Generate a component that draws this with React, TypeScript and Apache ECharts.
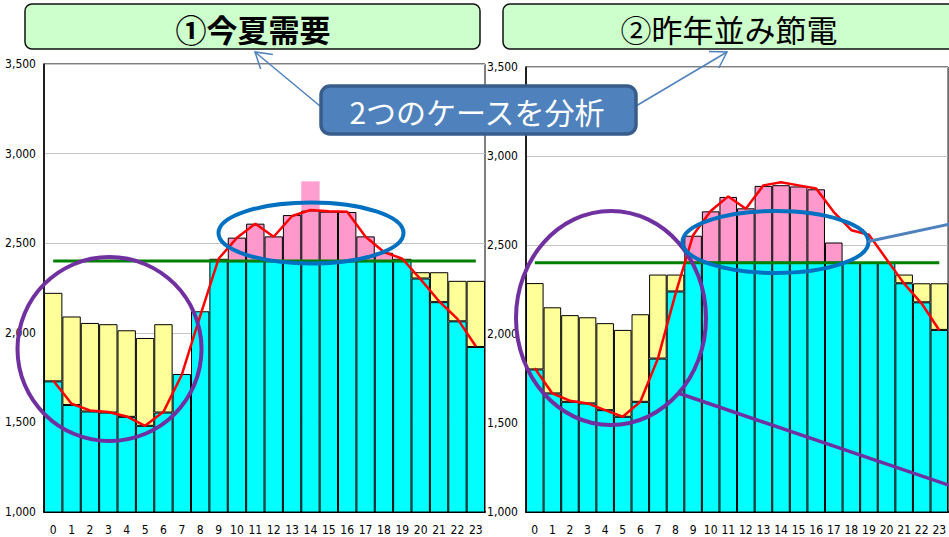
import React, { useEffect, useRef } from 'react';
import * as echarts from 'echarts';

// ---- data ----
const hourLabels = ['0','1','2','3','4','5','6','7','8','9','10','11','12','13','14','15','16','17','18','19','20','21','22','23'];
const yMin = 1000;
const yMax = 3500;
const yStep = 500;

// ① 今夏需要
const leftSupplyBase = [1729,1597,1561,1555,1531,1481,1555,1770,2120,2400,2400,2400,2400,2400,2400,2400,2400,2400,2400,2400,2303,2171,2064,1921];
const leftTotal = [2223,2091,2055,2048,2014,1971,2048,1770,2120,2413,2531,2609,2538,2657,2683,2676,2674,2538,2447,2413,2338,2338,2290,2290];
const leftPeakExtra = ['-','-','-','-','-','-','-','-','-','-','-','-','-','-',162,'-','-','-','-','-','-','-','-','-'];
const leftDemand = [1734,1604,1567,1558,1533,1481,1559,1766,2095,2413,2530,2609,2536,2652,2685,2678,2676,2536,2451,2413,2298,2176,2078,1925];

// ② 昨年並み節電
const rightSupplyBase = [1801,1666,1619,1610,1572,1535,1619,1862,2239,2400,2400,2400,2400,2400,2400,2400,2400,2400,2400,2400,2400,2285,2178,2023];
const rightTotal = [2286,2150,2106,2094,2061,2023,2111,2334,2334,2552,2689,2770,2706,2832,2836,2829,2813,2514,2400,2400,2400,2334,2285,2285];
const rightDemand = [1808,1666,1625,1610,1572,1535,1619,1862,2225,2555,2691,2773,2704,2835,2852,2835,2817,2685,2583,2558,2420,2283,2171,2021];

const capacityLine = [2400,2400,2400,2400,2400,2400,2400,2400,2400,2400,2400,2400,2400,2400,2400,2400,2400,2400,2400,2400,2400,2400,2400,2400];
const capLevel = 2400;

const titles = ['①今夏需要', '②昨年並み節電'];
const calloutText = '2つのケースを分析';

// ---- styles ----
const CYAN = '#00ffff';
const YELLOW = '#ffff99';
const PINK = '#ff99cc';
const AXIS_FONT = '"Liberation Sans Narrow", "DejaVu Sans Condensed", "Arial Narrow", sans-serif';
const JP_FONT = '"Noto Sans CJK JP", "Noto Sans CJK SC", sans-serif';

function topSegments(base: number[], total: number[]) {
  return base.map((b, i) => {
    const d = total[i] - b;
    if (d <= 0) return '-';
    return { value: d, itemStyle: { color: b >= capLevel ? PINK : YELLOW } };
  });
}

function arrowHead(x1: number, y1: number, x2: number, y2: number, len = 18, ang = (32 * Math.PI) / 180) {
  const a = Math.atan2(y2 - y1, x2 - x1);
  return [
    [x2 - len * Math.cos(a - ang), y2 - len * Math.sin(a - ang)],
    [x2, y2],
    [x2 - len * Math.cos(a + ang), y2 - len * Math.sin(a + ang)],
  ];
}

function makeAxes(idx: number) {
  return {
    x: {
      type: 'category',
      gridIndex: idx,
      data: hourLabels,
      boundaryGap: true,
      axisTick: { show: false },
      axisLine: { show: true, lineStyle: { color: '#000', width: 2 } },
      axisLabel: { interval: 0, fontSize: 12, fontFamily: AXIS_FONT, color: '#000', margin: 12 },
      splitLine: { show: false },
    },
    y: {
      type: 'value',
      gridIndex: idx,
      min: yMin,
      max: yMax,
      interval: yStep,
      axisTick: { show: false },
      axisLine: { show: true, lineStyle: { color: '#000', width: 1.5 } },
      axisLabel: {
        fontSize: 12,
        fontFamily: AXIS_FONT,
        color: '#000',
        margin: 8,
        formatter: (v: number) => v.toLocaleString('en-US'),
      },
      splitLine: { show: true, lineStyle: { color: '#c4c4c4', width: 1 } },
    },
  };
}

function panelSeries(idx: number, base: number[], total: number[], demand: number[], extra?: any[]) {
  const stack = 'S' + idx;
  const list: any[] = [
    {
      type: 'bar', xAxisIndex: idx, yAxisIndex: idx, stack, data: base,
      barCategoryGap: '0%', z: 2,
      itemStyle: { color: CYAN, borderColor: '#000', borderWidth: 1 },
    },
    {
      type: 'bar', xAxisIndex: idx, yAxisIndex: idx, stack, data: topSegments(base, total),
      barCategoryGap: '0%', z: 2,
      itemStyle: { color: YELLOW, borderColor: '#000', borderWidth: 1 },
    },
  ];
  if (extra) {
    list.push({
      type: 'bar', xAxisIndex: idx, yAxisIndex: idx, stack, data: extra,
      barCategoryGap: '0%', z: 2,
      itemStyle: { color: '#ff9fd0', borderWidth: 0 },
    });
  }
  list.push({
    type: 'line', xAxisIndex: idx, yAxisIndex: idx, data: capacityLine,
    symbol: 'none', z: 3, lineStyle: { color: '#008000', width: 3 },
  });
  list.push({
    type: 'line', xAxisIndex: idx, yAxisIndex: idx, data: demand,
    symbol: 'none', z: 4, lineStyle: { color: '#ff0000', width: 2.5 },
  });
  return list;
}

export default function App() {
  const ref = useRef<HTMLDivElement>(null);
  useEffect(() => {
    if (!ref.current) return;
    const chart = echarts.init(ref.current, null, { renderer: 'svg' });
    const a0 = makeAxes(0);
    const a1 = makeAxes(1);
    const leftArrowTail = [320, 106];
    const leftArrowTip = [255, 52];
    const rightArrowTail = [636, 106];
    const rightArrowTip = [727, 52];

    const graphics: any[] = [
      // title boxes
      { type: 'rect', z: 100, shape: { x: 25, y: 4, width: 455, height: 45, r: 7 },
        style: { fill: '#ccffcc', stroke: '#111', lineWidth: 1.5 } },
      { type: 'text', z: 101, x: 253, y: 28,
        style: { text: titles[0], fill: '#000', font: `bold 31px ${JP_FONT}`,
          textAlign: 'center', textVerticalAlign: 'middle', align: 'center', verticalAlign: 'middle' } },
      { type: 'rect', z: 100, shape: { x: 503, y: 4, width: 455, height: 45, r: 7 },
        style: { fill: '#ccffcc', stroke: '#111', lineWidth: 1.5 } },
      { type: 'text', z: 101, x: 729, y: 28,
        style: { text: titles[1], fill: '#000', font: `normal 31px ${JP_FONT}`,
          textAlign: 'center', textVerticalAlign: 'middle', align: 'center', verticalAlign: 'middle' } },
      // arrows
      { type: 'line', z: 100, shape: { x1: leftArrowTail[0], y1: leftArrowTail[1], x2: leftArrowTip[0], y2: leftArrowTip[1] },
        style: { stroke: '#4f81bd', lineWidth: 1.5 } },
      { type: 'polyline', z: 100, shape: { points: arrowHead(leftArrowTail[0], leftArrowTail[1], leftArrowTip[0], leftArrowTip[1]) },
        style: { stroke: '#4f81bd', lineWidth: 1.5, fill: null } },
      { type: 'line', z: 100, shape: { x1: rightArrowTail[0], y1: rightArrowTail[1], x2: rightArrowTip[0], y2: rightArrowTip[1] },
        style: { stroke: '#4f81bd', lineWidth: 1.5 } },
      { type: 'polyline', z: 100, shape: { points: arrowHead(rightArrowTail[0], rightArrowTail[1], rightArrowTip[0], rightArrowTip[1]) },
        style: { stroke: '#4f81bd', lineWidth: 1.5, fill: null } },
      // callout
      { type: 'rect', z: 102, shape: { x: 321, y: 86, width: 315, height: 48, r: 9 },
        style: { fill: '#4f81bd', stroke: '#385d8a', lineWidth: 3.5 } },
      { type: 'text', z: 103, x: 477, y: 111,
        style: { text: calloutText, fill: '#fff', font: `normal 30px ${JP_FONT}`,
          textAlign: 'center', textVerticalAlign: 'middle', align: 'center', verticalAlign: 'middle' } },
      // left ellipses
      { type: 'ellipse', z: 100, shape: { cx: 109.5, cy: 349, rx: 92, ry: 92 },
        style: { fill: null, stroke: '#7030a0', lineWidth: 4 } },
      { type: 'ellipse', z: 100, shape: { cx: 311, cy: 233, rx: 92.5, ry: 30.5 },
        style: { fill: null, stroke: '#0070c0', lineWidth: 4 } },
      // right ellipses
      { type: 'ellipse', z: 100, shape: { cx: 611, cy: 318, rx: 95, ry: 107 },
        style: { fill: null, stroke: '#7030a0', lineWidth: 4 } },
      { type: 'ellipse', z: 100, shape: { cx: 775.5, cy: 242, rx: 93, ry: 31 },
        style: { fill: null, stroke: '#0070c0', lineWidth: 4 } },
      // connector lines
      { type: 'line', z: 100, shape: { x1: 678, y1: 393, x2: 960, y2: 489 },
        style: { stroke: '#7030a0', lineWidth: 3.5 } },
      { type: 'line', z: 100, shape: { x1: 868, y1: 241.5, x2: 960, y2: 222 },
        style: { stroke: '#4f81bd', lineWidth: 3 } },
    ];

    chart.setOption({
      animation: false,
      backgroundColor: '#fff',
      grid: [
        { left: 44, top: 64, width: 441, height: 448, show: true, borderColor: '#000', borderWidth: 1, backgroundColor: 'transparent' },
        { left: 526, top: 67, width: 430, height: 445, show: true, borderColor: '#000', borderWidth: 1, backgroundColor: 'transparent' },
      ],
      xAxis: [a0.x, a1.x],
      yAxis: [a0.y, a1.y],
      series: [
        ...panelSeries(0, leftSupplyBase, leftTotal, leftDemand, leftPeakExtra),
        ...panelSeries(1, rightSupplyBase, rightTotal, rightDemand),
      ],
      graphic: graphics,
    });
    return () => chart.dispose();
  }, []);
  return (
    <div
      ref={ref}
      style={{ position: 'fixed', left: 0, top: 0, width: 949, height: 537, background: '#fff' }}
    />
  );
}
